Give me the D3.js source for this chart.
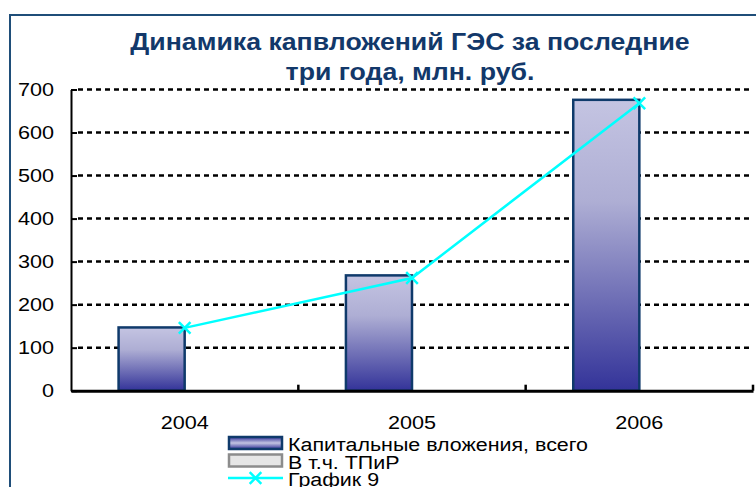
<!DOCTYPE html>
<html>
<head>
<meta charset="utf-8">
<script src="https://cdn.jsdelivr.net/npm/d3@7"></script>
<style>
  body { margin: 0; background: #fff; }
  svg { display: block; font-family: Arial, "Liberation Sans", sans-serif; }
</style>
</head>
<body>
<script>
// values
const years = ['2004', '2005', '2006'];
const seriesNames = ['Капитальные вложения, всего', 'В т.ч. ТПиР', 'График 9'];
const capital = [147, 268, 676];
const tpir = [null, null, null];
const graph9 = [146, 262, 668];
const yTicks = [0, 100, 200, 300, 400, 500, 600, 700];
const titleLines = ['Динамика капвложений ГЭС за последние', 'три года, млн. руб.'];

const W = 756, H = 487;
const plot = { left: 71, right: 753, top: 89.5, bottom: 390.7 };

// the reference text is drawn a little wider than Liberation Sans
function stretch(sel, k) {
  sel.each(function () {
    const len = this.getComputedTextLength();
    d3.select(this)
      .attr('textLength', len * k)
      .attr('lengthAdjust', 'spacingAndGlyphs');
  });
}

const svg = d3.select('body').append('svg')
  .attr('width', W)
  .attr('height', H);

const defs = svg.append('defs');
const grad = defs.append('linearGradient')
  .attr('id', 'barGrad')
  .attr('x1', 0).attr('y1', 0).attr('x2', 0).attr('y2', 1);
grad.append('stop').attr('offset', '0%').attr('stop-color', '#c4c4e2');
grad.append('stop').attr('offset', '35%').attr('stop-color', '#aeaed4');
grad.append('stop').attr('offset', '100%').attr('stop-color', '#333399');

const legGrad = defs.append('linearGradient')
  .attr('id', 'legGrad')
  .attr('x1', 0).attr('y1', 0).attr('x2', 0).attr('y2', 1);
legGrad.append('stop').attr('offset', '0%').attr('stop-color', '#333399');
legGrad.append('stop').attr('offset', '50%').attr('stop-color', '#c4c4e2');
legGrad.append('stop').attr('offset', '100%').attr('stop-color', '#333399');

// outer frame (runs past the right and bottom edges)
svg.append('rect')
  .attr('x', 10).attr('y', 15)
  .attr('width', 800).attr('height', 500)
  .attr('fill', 'none')
  .attr('stroke', '#1f4e79')
  .attr('stroke-width', 2);

const x = d3.scaleBand()
  .domain(years)
  .range([plot.left, plot.right]);

const xSub = d3.scaleBand()
  .domain(['capital', 'tpir'])
  .range([0, x.bandwidth()])
  .paddingOuter(0.72);

const y = d3.scaleLinear()
  .domain([0, 700])
  .range([plot.bottom, plot.top]);

// gridlines
svg.append('g')
  .selectAll('line')
  .data(yTicks.filter(d => d > 0))
  .join('line')
  .attr('x1', plot.left + 7)
  .attr('x2', plot.right)
  .attr('y1', d => y(d))
  .attr('y2', d => y(d))
  .attr('stroke', '#000')
  .attr('stroke-width', 2.5)
  .attr('stroke-dasharray', '5,4');

// y axis, ticks point into the plot
const yAxis = svg.append('g')
  .attr('transform', `translate(${plot.left},0)`)
  .call(d3.axisLeft(y).tickValues(yTicks).tickSizeInner(-6).tickSizeOuter(0).tickPadding(17));
yAxis.select('.domain').attr('stroke', '#000').attr('stroke-width', 2);
yAxis.selectAll('.tick line').attr('stroke', '#000').attr('stroke-width', 2);
yAxis.selectAll('.tick text')
  .attr('x', -17)
  .attr('font-size', 18)
  .attr('font-family', 'Arial, "Liberation Sans", sans-serif')
  .attr('fill', '#000')
  .call(stretch, 1.2);

// bars
const bars = [
  { key: 'capital', values: capital },
  { key: 'tpir', values: tpir }
];
svg.append('g')
  .selectAll('g')
  .data(bars)
  .join('g')
  .selectAll('rect')
  .data(s => s.values.map((v, i) => ({ key: s.key, year: years[i], v })).filter(d => d.v != null))
  .join('rect')
  .attr('x', d => x(d.year) + xSub(d.key))
  .attr('y', d => y(d.v))
  .attr('width', xSub.bandwidth())
  .attr('height', d => y(0) - y(d.v))
  .attr('fill', 'url(#barGrad)')
  .attr('stroke', '#0f3a6b')
  .attr('stroke-width', 2.5);

// x axis
const xAxis = svg.append('g')
  .attr('transform', `translate(0,${plot.bottom})`)
  .call(d3.axisBottom(x).tickSize(0).tickPadding(26));
xAxis.select('.domain').attr('stroke', '#000').attr('stroke-width', 3);
xAxis.selectAll('text')
  .attr('font-size', 18)
  .attr('font-family', 'Arial, "Liberation Sans", sans-serif')
  .attr('fill', '#000')
  .call(stretch, 1.2);
// category boundary ticks
svg.append('g')
  .selectAll('line')
  .data(years)
  .join('line')
  .attr('x1', d => x(d) + x.bandwidth())
  .attr('x2', d => x(d) + x.bandwidth())
  .attr('y1', plot.bottom)
  .attr('y2', plot.bottom - 6)
  .attr('stroke', '#000')
  .attr('stroke-width', 2.5);

// line series
const line = d3.line()
  .x((d, i) => x(years[i]) + x.bandwidth() / 2)
  .y(d => y(d));
svg.append('path')
  .datum(graph9)
  .attr('d', line)
  .attr('fill', 'none')
  .attr('stroke', '#00ffff')
  .attr('stroke-width', 2.5);

const cross = d3.symbol().type(d3.symbolX).size(90);
svg.append('g')
  .selectAll('path')
  .data(graph9)
  .join('path')
  .attr('transform', (d, i) => `translate(${x(years[i]) + x.bandwidth() / 2},${y(d)})`)
  .attr('d', cross)
  .attr('fill', 'none')
  .attr('stroke', '#00ffff')
  .attr('stroke-width', 2.5);

// title
svg.append('g')
  .selectAll('text')
  .data(titleLines)
  .join('text')
  .attr('x', 410)
  .attr('y', (d, i) => 50 + i * 30)
  .attr('text-anchor', 'middle')
  .attr('font-size', 23)
  .attr('font-weight', 'bold')
  .attr('fill', '#12386a')
  .text(d => d)
  .call(stretch, 1.16);

// legend
const legend = svg.append('g').attr('transform', 'translate(228,443)');
const rows = legend.selectAll('g')
  .data(seriesNames)
  .join('g')
  .attr('transform', (d, i) => `translate(0,${i * 17.5})`);

rows.filter((d, i) => i === 0).append('rect')
  .attr('x', 1).attr('y', -6).attr('width', 53).attr('height', 12)
  .attr('fill', 'url(#legGrad)')
  .attr('stroke', '#0f3a6b').attr('stroke-width', 2.5);
rows.filter((d, i) => i === 1).append('rect')
  .attr('x', 1).attr('y', -6).attr('width', 53).attr('height', 12)
  .attr('fill', '#e6e6e6')
  .attr('stroke', '#8c8c8c').attr('stroke-width', 2.5);
rows.filter((d, i) => i === 2).append('line')
  .attr('x1', 0).attr('x2', 55).attr('y1', 0).attr('y2', 0)
  .attr('stroke', '#00ffff').attr('stroke-width', 2.5);
rows.filter((d, i) => i === 2).append('path')
  .attr('transform', 'translate(27.5,0)')
  .attr('d', cross)
  .attr('fill', 'none')
  .attr('stroke', '#00ffff').attr('stroke-width', 2.5);

rows.append('text')
  .attr('x', 60)
  .attr('y', 8)
  .attr('font-size', 18)
  .attr('fill', '#000')
  .text(d => d)
  .call(stretch, 1.19);
</script>
</body>
</html>
